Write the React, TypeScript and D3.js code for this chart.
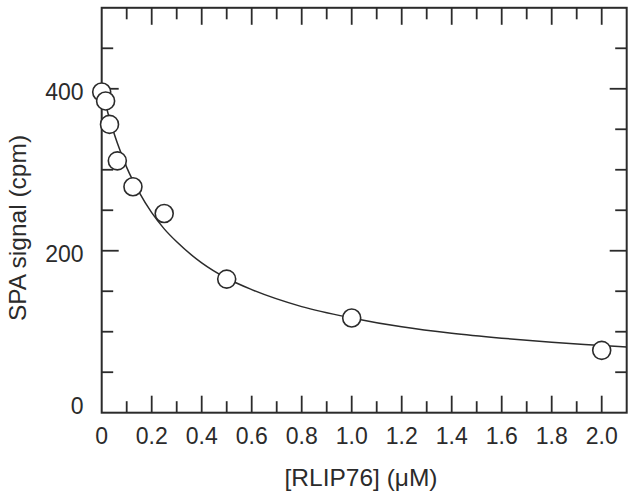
import React from "react";
import * as d3 from "d3";

// Measured data (two-fold dilution series of RLIP76)
const concentrations: number[] = [0, 0.015625, 0.03125, 0.0625, 0.125, 0.25, 0.5, 1.0, 2.0];
const spaSignal: number[] = [396, 385, 356, 311, 279, 246, 165, 117, 77];

// Fitted curve
const fitX: number[] = [0, 0.03125, 0.0625, 0.1, 0.15, 0.2, 0.25, 0.3, 0.4, 0.5, 0.6, 0.8, 1.0, 1.2, 1.4, 1.6, 1.8, 2.0, 2.1];
const fitY: number[] = [400, 363, 333, 303, 272, 247, 227, 211, 185, 166, 152, 131, 117, 106, 98, 92, 87, 83, 81];

const xDomain: [number, number] = [0, 2.1];
const yDomain: [number, number] = [0, 500];
const xLabel = "[RLIP76] (\u03BCM)";
const yLabel = "SPA signal (cpm)";

const W = 636;
const H = 498;
const plot = { left: 101.7, right: 626.7, top: 7.8, bottom: 412.7 };
const ink = "#2b2b2b";
const font = "'Liberation Sans', Arial, Helvetica, sans-serif";
const tickFont = 23;
const titleFont = 24.5;

export default function App() {
  const x = d3.scaleLinear().domain(xDomain).range([plot.left, plot.right]);
  const y = d3.scaleLinear().domain(yDomain).range([plot.bottom, plot.top]);

  const xTicks = x.ticks(21).filter((v) => v > 1e-9 && v < xDomain[1] - 1e-9);
  const xMajor = x.ticks(21).filter((v) => Math.round(v * 10) % 2 === 0 && v <= 2.0 + 1e-9);
  const yTicks = y.ticks(10).filter((v) => v > 0 && v < yDomain[1]);
  const yMajor = y.ticks(10).filter((v) => v % 200 === 0 && v < yDomain[1]);

  const isXMajor = (v: number) => Math.round(v * 10) % 2 === 0;
  const isYMajor = (v: number) => v % 200 === 0;
  const longT = 17;
  const shortT = 11.5;

  const line = d3
    .line<number>()
    .x((_, i) => x(fitX[i]))
    .y((d) => y(d))
    .curve(d3.curveMonotoneX);

  const fmtX = (v: number) => (v === 0 ? "0" : d3.format(".1f")(v));
  const yLabelCenter = (v: number) => Math.min(y(v) + 3, plot.bottom - 7);

  return (
    <svg
      width={W}
      height={H}
      style={{ position: "fixed", left: 0, top: 0, background: "#fff" }}
      fontFamily={font}
    >
      <rect x={0} y={0} width={W} height={H} fill="#fff" />
      {/* fitted curve */}
      <path d={line(fitY) || ""} fill="none" stroke={ink} strokeWidth={1.5} />

      {/* frame */}
      <rect
        x={plot.left}
        y={plot.top}
        width={plot.right - plot.left}
        height={plot.bottom - plot.top}
        fill="none"
        stroke={ink}
        strokeWidth={2}
      />

      {/* x ticks bottom & top */}
      {xTicks.map((v) => {
        const len = isXMajor(v) ? longT : shortT;
        return (
          <g key={"xt" + v}>
            <line x1={x(v)} x2={x(v)} y1={plot.bottom} y2={plot.bottom - len} stroke={ink} strokeWidth={1.8} />
            <line x1={x(v)} x2={x(v)} y1={plot.top} y2={plot.top + len} stroke={ink} strokeWidth={1.8} />
          </g>
        );
      })}
      {/* y ticks left & right */}
      {yTicks.map((v) => {
        const len = isYMajor(v) ? longT : shortT;
        return (
          <g key={"yt" + v}>
            <line x1={plot.left} x2={plot.left + len} y1={y(v)} y2={y(v)} stroke={ink} strokeWidth={1.8} />
            <line x1={plot.right} x2={plot.right - len} y1={y(v)} y2={y(v)} stroke={ink} strokeWidth={1.8} />
          </g>
        );
      })}

      {/* x tick labels */}
      {xMajor.map((v) => (
        <text key={"xl" + v} x={x(v)} y={443.5} textAnchor="middle" fontSize={tickFont} fill={ink}>
          {fmtX(v)}
        </text>
      ))}
      {/* y tick labels */}
      {yMajor.map((v) => (
        <text key={"yl" + v} x={83.5} y={yLabelCenter(v)} dy="0.36em" textAnchor="end" fontSize={tickFont} fill={ink}>
          {v}
        </text>
      ))}

      {/* axis titles */}
      <text x={361} y={486} textAnchor="middle" fontSize={titleFont} fill={ink}>
        {xLabel}
      </text>
      <text
        transform={`translate(26, ${228}) rotate(-90)`}
        textAnchor="middle"
        fontSize={titleFont}
        fill={ink}
      >
        {yLabel}
      </text>

      {/* data points */}
      {concentrations.map((c, i) => (
        <circle key={"p" + i} cx={x(c)} cy={y(spaSignal[i])} r={9} fill="#fff" stroke={ink} strokeWidth={1.6} />
      ))}
    </svg>
  );
}
